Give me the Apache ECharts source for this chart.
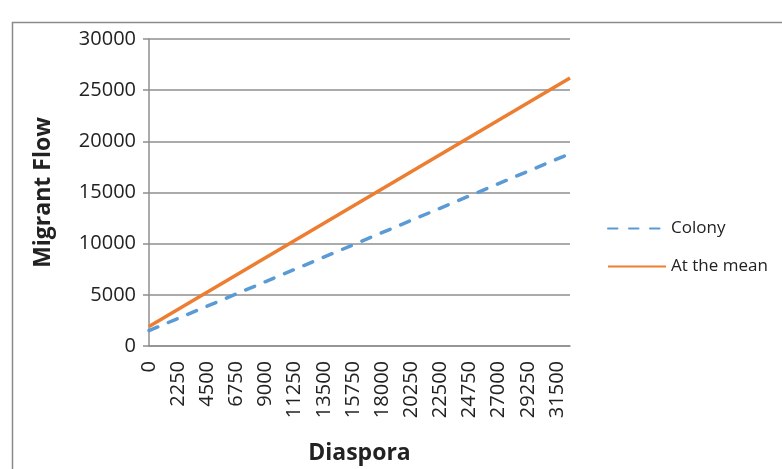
<!DOCTYPE html>
<html>
<head>
<meta charset="utf-8">
<script src="https://cdn.jsdelivr.net/npm/echarts@6/dist/echarts.min.js"></script>
<style>
  html, body { margin: 0; padding: 0; background: #fff; }
  #chart { width: 782px; height: 469px; }
</style>
</head>
<body>
<div id="chart"></div>
<script>
// Diaspora size (x) at the two ends of each fitted line
const diaspora = [0, 32500];
// Predicted migrant flow for each scenario
const colony = [1500, 18800];
const atTheMean = [1900, 26200];
// Labelled positions along the diaspora axis
const diasporaTicks = [0, 2250, 4500, 6750, 9000, 11250, 13500, 15750, 18000,
  20250, 22500, 24750, 27000, 29250, 31500];
const seriesNames = ['Colony', 'At the mean'];

const FONT = '"Open Sans", sans-serif';
const GRID_GRAY = '#8f8f8f';

const pairs = ys => diaspora.map((x, i) => [x, ys[i]]);
const plain = v => String(v);

const chart = echarts.init(document.getElementById('chart'), null, { renderer: 'canvas' });
chart.setOption({
  animation: false,
  backgroundColor: '#ffffff',
  graphic: [{
    type: 'rect',
    left: 10, top: 20,
    shape: { x: 0, y: 0, width: 820, height: 500 },
    style: { fill: 'none', stroke: '#8a8a8a', lineWidth: 1.5 },
    silent: true
  }],
  grid: { left: 149, right: 212, top: 39, bottom: 123, outerBoundsMode: 'none', containLabel: false },
  legend: {
    orient: 'vertical',
    left: 607, top: 220,
    padding: 0,
    itemWidth: 58, itemHeight: 14, itemGap: 21,
    itemStyle: { opacity: 0 },
    textStyle: { fontFamily: FONT, fontSize: 17, color: '#222' },
    data: seriesNames
  },
  xAxis: {
    type: 'value',
    min: 0, max: diaspora[diaspora.length - 1],
    name: 'Diaspora',
    nameLocation: 'middle',
    nameGap: 96,
    nameTextStyle: { fontFamily: FONT, fontSize: 23, fontWeight: 'bold', color: '#222' },
    axisLine: { show: true, lineStyle: { color: GRID_GRAY, width: 1.5 } },
    axisTick: { show: false },
    splitLine: { show: false },
    axisLabel: {
      customValues: diasporaTicks,
      formatter: plain,
      rotate: 90,
      margin: 15,
      fontFamily: FONT, fontSize: 20, color: '#222'
    }
  },
  yAxis: {
    type: 'value',
    min: 0, max: 30000, interval: 5000,
    name: 'Migrant Flow',
    nameLocation: 'middle',
    nameGap: 94,
    nameTextStyle: { fontFamily: FONT, fontSize: 23, fontWeight: 'bold', color: '#222' },
    axisLine: { show: true, lineStyle: { color: GRID_GRAY, width: 1.5 } },
    axisTick: { show: true, length: 6, lineStyle: { color: GRID_GRAY, width: 1.5 } },
    splitLine: { show: true, lineStyle: { color: GRID_GRAY, width: 1.5 } },
    axisLabel: { margin: 13, formatter: plain, fontFamily: FONT, fontSize: 20, color: '#222' }
  },
  series: [
    {
      name: seriesNames[0],
      type: 'line',
      data: pairs(colony),
      symbol: 'none',
      color: '#5b9bd5',
      lineStyle: { width: 3.5, type: [9.5, 11.5], cap: 'round' },
      z: 3
    },
    {
      name: seriesNames[1],
      type: 'line',
      data: pairs(atTheMean),
      symbol: 'none',
      color: '#ed7d31',
      lineStyle: { width: 3.5 },
      z: 4
    }
  ]
});
</script>
</body>
</html>
